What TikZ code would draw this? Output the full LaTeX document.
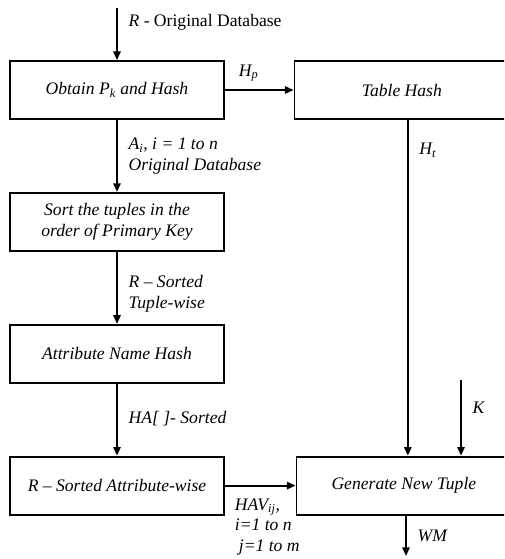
\documentclass[tikz,border=0pt]{standalone}
\usepackage{fontspec}
\setmainfont{Liberation Serif}
\usetikzlibrary{arrows.meta, positioning, calc}
\tikzset{
    stagebox/.style={
        rectangle, minimum width=160pt, minimum height=43.5pt,
        align=center, draw=black, line width=1.4pt, inner sep=2pt,
        font=\fontsize{13.2}{15.5}\selectfont\itshape
    },
    widebox/.style={
        stagebox, minimum width=161pt
    },
    arrow/.style={
        -{Triangle[length=6.5pt, width=5.5pt]}, line width=1.4pt, draw=black
    },
    flowlabel/.style={
        align=left, inner sep=0pt, font=\fontsize{13.2}{15.5}\selectfont\itshape
    }
}

\begin{document}
\begin{tikzpicture}[x=0.75pt, y=-0.75pt, node distance=54pt and 52pt]
    \path[use as bounding box, clip] (0,0) rectangle (504,559);

    \node[stagebox] (obtain) at (117,90) {Obtain P\textsubscript{k} and Hash};
    \node[stagebox, below=of obtain]   (sorttup)  {Sort the tuples in the\\order of Primary Key};
    \node[stagebox, below=of sorttup]  (attrhash) {Attribute Name Hash};
    \node[stagebox, below=of attrhash] (sortattr) {R -- Sorted Attribute-wise};
    \node[widebox, right=51.75pt of obtain]  (thash) {Table Hash};
    \node[widebox, right=53.25pt of sortattr] (gen)  {Generate New Tuple};

    \coordinate (rin)   at (117,8);
    \coordinate (htx)   at ($(thash.south)+(6,0)$);
    \coordinate (kin)   at (461,380);
    \coordinate (wmout) at (406,556);

    \draw[arrow] (rin) -- node[flowlabel, right=8pt, pos=0.28] {R\upshape{} - Original Database} (obtain);
    \draw[arrow] (obtain) -- node[flowlabel, right=8pt, pos=0.5]
        {A\textsubscript{i}, i = 1 to n\\Original Database} (sorttup);
    \draw[arrow] (sorttup) -- node[flowlabel, right=8pt, pos=0.58] {R -- Sorted\\Tuple-wise} (attrhash);
    \draw[arrow] (attrhash) -- node[flowlabel, right=8pt, pos=0.48] {HA[ ]- Sorted} (sortattr);
    \draw[arrow] (obtain) -- node[flowlabel, above=6pt, pos=0.35] {H\textsubscript{p}} (thash);
    \draw[arrow] (sortattr) -- node[flowlabel, below right=9pt and 7pt, pos=0]
        {HAV\textsubscript{ij},\\i=1 to n\\\hspace{3pt}j=1 to m} (gen);
    \draw[arrow] (htx) -- node[flowlabel, right=8pt, pos=0.09] {H\textsubscript{t}} (htx |- gen.north);
    \draw[arrow] (kin) -- node[flowlabel, right=8pt, pos=0.36] {K} (kin |- gen.north);
    \draw[arrow] (gen.south -| wmout) -- node[flowlabel, right=8pt, pos=0.5] {WM} (wmout);

\end{tikzpicture}
\end{document}
